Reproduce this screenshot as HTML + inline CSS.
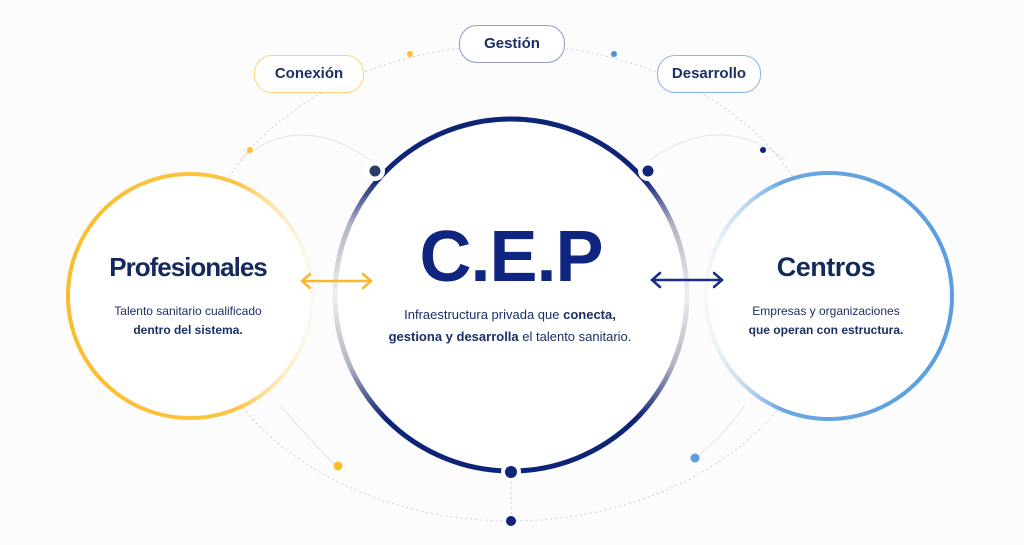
<!DOCTYPE html>
<html><head><meta charset="utf-8"><style>
html,body{margin:0;padding:0;background:#fcfcfd;}
body{width:1024px;height:545px;overflow:hidden;position:relative;font-family:"Liberation Sans",sans-serif;color:#142a5c;}
.t{position:absolute;text-align:center;}
.pill{position:absolute;height:36px;border-radius:18px;background:#fff;font-weight:bold;font-size:15px;line-height:36px;text-align:center;color:#1c2f66;}
</style></head><body>
<svg width="1024" height="545" style="position:absolute;left:0;top:0">
<defs>
<linearGradient id="cg" x1="0" y1="0" x2="0" y2="1">
<stop offset="0" stop-color="#0d2478"/><stop offset="0.17" stop-color="#0d2478"/>
<stop offset="0.3" stop-color="#b0b3c4"/><stop offset="0.5" stop-color="#f0f0f2"/>
<stop offset="0.7" stop-color="#b0b3c4"/><stop offset="0.85" stop-color="#0d2478"/><stop offset="1" stop-color="#0d2478"/>
</linearGradient>
<linearGradient id="yg" x1="0" y1="0" x2="1" y2="0">
<stop offset="0" stop-color="#fbbd2e"/><stop offset="0.7" stop-color="#fbc646"/><stop offset="1" stop-color="#fdf0cf" stop-opacity="0.3"/>
</linearGradient>
<linearGradient id="bg" x1="1" y1="0" x2="0" y2="0">
<stop offset="0" stop-color="#5a9ee0"/><stop offset="0.7" stop-color="#6aa7e2"/><stop offset="1" stop-color="#dbe8f6" stop-opacity="0.3"/>
</linearGradient>
</defs>
<ellipse cx="511" cy="283" rx="315" ry="238" fill="none" stroke="#c8cde6" stroke-width="1" stroke-dasharray="2 3"/>
<line x1="511" y1="472" x2="511" y2="520" stroke="#c8cde6" stroke-dasharray="2 3"/>
<path d="M240 160 Q300 110 370 160" fill="none" stroke="#e0e3f0"/>
<path d="M650 160 Q720 110 785 160" fill="none" stroke="#e0e3f0"/>
<path d="M280 405 Q310 440 335 465" fill="none" stroke="#e0e3f0"/>
<path d="M745 405 Q720 440 695 458" fill="none" stroke="#e0e3f0"/>
<circle cx="511" cy="295" r="176" fill="#fff" stroke="url(#cg)" stroke-width="5"/>
<circle cx="190" cy="296" r="122" fill="#fff" stroke="url(#yg)" stroke-width="4"/>
<circle cx="829" cy="296" r="123" fill="#fff" stroke="url(#bg)" stroke-width="4"/>
<circle cx="375" cy="171" r="10" fill="#fff"/><circle cx="375" cy="171" r="5.5" fill="#2c3c62"/>
<circle cx="648" cy="171" r="10" fill="#fff"/><circle cx="648" cy="171" r="5.5" fill="#0d2478"/>
<circle cx="511" cy="472" r="10" fill="#fff"/><circle cx="511" cy="472" r="6" fill="#0d2478"/>
<circle cx="511" cy="521" r="5" fill="#0d2478"/>
<circle cx="410" cy="54" r="3" fill="#fbc02d"/>
<circle cx="614" cy="54" r="3" fill="#4a8fd8"/>
<circle cx="250" cy="150" r="3" fill="#fbc02d"/>
<circle cx="763" cy="150" r="3" fill="#0d2478"/>
<circle cx="338" cy="466" r="4.5" fill="#fbbd2e"/>
<circle cx="695" cy="458" r="4.5" fill="#5a9ee0"/>
<g stroke="#f9b92a" stroke-width="2.5" fill="none" stroke-linecap="round">
<line x1="302" y1="281" x2="371" y2="281"/><polyline points="310,274 302,281 310,288"/><polyline points="363,274 371,281 363,288"/></g>
<g stroke="#17307f" stroke-width="2.5" fill="none" stroke-linecap="round">
<line x1="652" y1="280" x2="722" y2="280"/><polyline points="660,273 652,280 660,287"/><polyline points="714,273 722,280 714,287"/></g>
</svg>
<div class="pill" style="left:254px;top:55px;width:108px;border:1px solid #fcd675;">Conexión</div>
<div class="pill" style="left:459px;top:25px;width:104px;border:1px solid #8f9ac6;">Gestión</div>
<div class="pill" style="left:657px;top:55px;width:102px;border:1px solid #86b5e8;">Desarrollo</div>
<div class="t" style="left:380px;top:212px;width:262px;font-size:72px;font-weight:bold;color:#0f2580;letter-spacing:-1px;line-height:90px;">C.E.P</div>
<div class="t" style="left:360px;top:304px;width:300px;font-size:13px;line-height:22px;color:#1c2f66;">Infraestructura privada que <b>conecta,</b><br><b>gestiona y desarrolla</b> el talento sanitario.</div>
<div class="t" style="left:80px;top:252px;width:216px;font-size:26px;font-weight:bold;letter-spacing:-1px;color:#15295c;">Profesionales</div>
<div class="t" style="left:88px;top:302px;width:200px;font-size:12px;line-height:19px;color:#1c2f66;">Talento sanitario cualificado<br><b>dentro del sistema.</b></div>
<div class="t" style="left:726px;top:252px;width:200px;font-size:27px;font-weight:bold;letter-spacing:-0.5px;color:#15295c;">Centros</div>
<div class="t" style="left:726px;top:302px;width:200px;font-size:12px;line-height:19px;color:#1c2f66;">Empresas y organizaciones<br><b>que operan con estructura.</b></div>
</body></html>
